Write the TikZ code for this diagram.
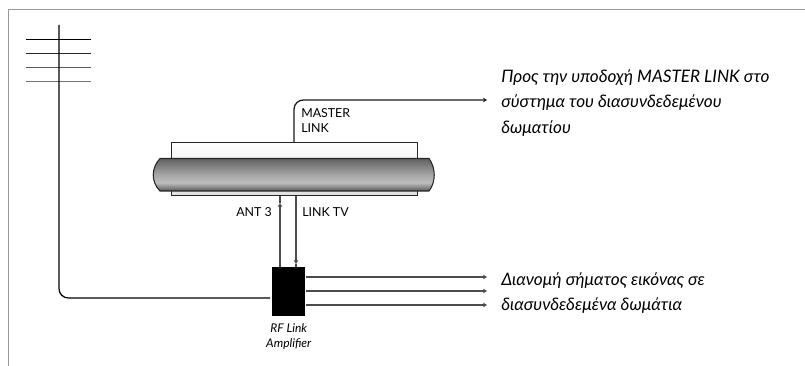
\documentclass[tikz,border=0pt]{standalone}
\usepackage{fontspec}
\setmainfont{Lato}
\usetikzlibrary{arrows.meta,positioning}

\pgfdeclareverticalshading{BarShade}{100bp}{
  color(0bp)=(black!65); color(25bp)=(black!65); color(38bp)=(black!25);
  color(50bp)=(black!35); color(75bp)=(black!62); color(100bp)=(black!62)}

\begin{document}
\begin{tikzpicture}
      [
        x=0.75pt, y=-0.75pt,
        FlowLine/.style={draw=black!70, line width=0.95pt},
        FlowArrow/.style={FlowLine, -{Stealth[length = 3pt, width = 3.5pt]}},
        PortLabel/.style={font=\fontsize{9.3pt}{11.25pt}\selectfont, text=black, inner sep=0pt, align=left},
        NoteLabel/.style={font=\fontsize{12.9pt}{19pt}\selectfont\itshape, text=black, inner sep=0pt, align=left, anchor=west},
      ]
      \useasboundingbox (0,0) rectangle (805,366);

      % frame
      \draw [black!40, line width=0.9pt] (8.5,366) -- (8.5,9.5) -- (805,9.5);

      % antenna
      \coordinate (mastTop) at (59,25);
      \foreach \y/\shade in {39.5/100,53.5/85,67.5/65,81.5/55} {
        \coordinate (dipL) at (26,\y);
        \coordinate (dipR) at (91,\y);
        \draw [draw=black!\shade, line width=1pt] (dipL) -- (dipR);
      }

      % television
      \node [draw=black!85, top color=white, bottom color=black!12, line width=0.7pt, inner sep=0pt, anchor=north west, minimum width=184.5pt, minimum height=40pt] (cabinet) at (171,142) {};
      \draw [draw=black!85, line width=0.8pt, shading=BarShade]
        (160,158.5) -- (429,158.5) .. controls (436,168) and (436,182) .. (429,191)
        -- (160,191) .. controls (151,182) and (151,168) .. (160,158.5) -- cycle;
      \coordinate (masterStart) at (294,142);
      \coordinate (antEnd) at (280,196);
      \coordinate (antTip) at (280,203);
      \coordinate (linkStart) at (296,196);
      \coordinate (linkTip) at (296,264);

      % amplifier
      \node [fill=black, minimum width=24.75pt, minimum height=36.75pt, inner sep=0pt, anchor=north west] (amp) at (272,267) {};
      \node [font=\fontsize{9pt}{11.25pt}\selectfont\itshape, text=black, align=center, inner sep=0pt, below=5.5pt of amp] (ampLabel) {RF Link\\Amplifier};

      % outputs
      \coordinate (outTop) at (487,100);
      \coordinate (outA) at (487,277);
      \coordinate (outB) at (487,291);
      \coordinate (outC) at (487,305);

      \draw [black, line width=0.9pt, rounded corners=7pt] (mastTop) -- (59,298) -- (270,298);
      \draw [FlowArrow, draw=black!90] (masterStart) [rounded corners=7pt] -- (294,100) -- (outTop);
      \draw [FlowArrow] (amp.north -| antTip) -- (antTip);
      \draw [FlowLine] (antTip) -- (antEnd);
      \draw [FlowArrow] (linkStart) -- (linkTip);
      \draw [FlowLine] (linkTip) -- (amp.north -| linkTip);
      \draw [FlowArrow] (amp.east |- outA) -- (outA);
      \draw [FlowArrow] (amp.east |- outB) -- (outB);
      \draw [FlowArrow] (amp.east |- outC) -- (outC);

      % labels
      \node [PortLabel, anchor=west] (masterLabel) at (301,120.5) {MASTER\\LINK};
      \node [PortLabel, anchor=west] (antLabel) at (236,212) {ANT 3};
      \node [PortLabel, anchor=west] (linkLabel) at (302,212) {LINK TV};
      \node [NoteLabel] (noteTop) at (501,103) {Προς την υποδοχή MASTER LINK στο\\σύστημα του διασυνδεδεμένου\\δωματίου};
      \node [NoteLabel] (noteBottom) at (501,293) {Διανομή σήματος εικόνας σε\\διασυνδεδεμένα δωμάτια};
    \end{tikzpicture}
\end{document}
